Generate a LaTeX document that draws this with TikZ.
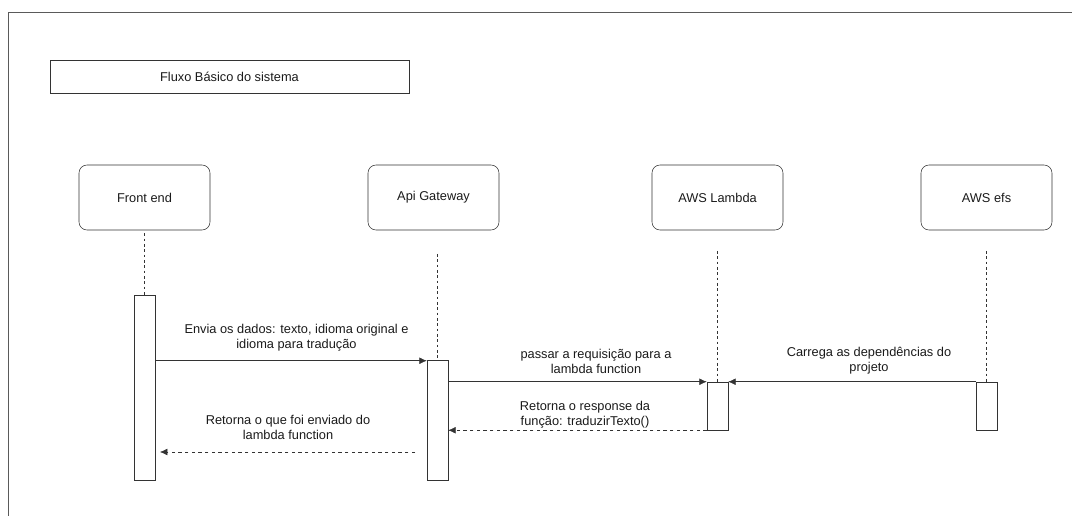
\documentclass[tikz,border=0pt]{standalone}
\usepackage{fontspec}
\setmainfont{Liberation Sans}
\usepackage{xcolor}
\usepackage{tikz}
\usetikzlibrary{arrows.meta,positioning,calc}

\definecolor{lineGray}{RGB}{51,51,51}
\definecolor{frameGray}{RGB}{90,90,90}
\definecolor{textDark}{RGB}{26,26,26}

\tikzset{
  actor/.style={draw=lineGray, rounded corners=6pt, minimum width=98.25pt, minimum height=48.75pt, font=\fontsize{9.6}{11.25}\selectfont, text=textDark},
  titlebox/.style={draw=lineGray, minimum width=269.25pt, minimum height=24.75pt, font=\fontsize{9.6}{11.25}\selectfont, text=textDark},
  activation/.style={draw=lineGray, fill=white, minimum width=15.75pt, inner sep=0pt},
  lifeline/.style={draw=lineGray, dash pattern=on 2pt off 2pt},
  msg/.style={draw=lineGray, -{Latex[length=5.5pt,width=5pt]}},
  reply/.style={msg, dash pattern=on 2.5pt off 2.5pt},
  msglabel/.style={align=center, font=\fontsize{9.6}{11.25}\selectfont, text=textDark}
}

\begin{document}
\begin{tikzpicture}[x=0.75pt, y=-0.75pt]
\useasboundingbox (0,0) rectangle (1072,516);

% Page frame
\draw[frameGray, line width=1pt] (8.5,516) -- (8.5,12.5) -- (1072,12.5);

% Title
\node[titlebox] (title) at (229.5,76.5) {Fluxo Básico do sistema};

% Participants
\node[actor] (front) at (144.5,197.5) {Front end};
\node[actor] (api) at (433.5,197.5) {Api Gateway};
\node[actor] (lambda) at (717.5,197.5) {AWS Lambda};
\node[actor] (efs) at (986.5,197.5) {AWS efs};

% Activations
\node[activation, minimum height=138.75pt] (frontAct) at (144.5,387.5) {};
\node[activation, minimum height=90pt] (apiAct) at (437.5,420) {};
\node[activation, minimum height=36pt] (lambdaAct) at (717.5,406) {};
\node[activation, minimum height=36pt] (efsAct) at (986.5,406) {};

% Lifelines
\coordinate (apiTop) at (437.5,254);
\coordinate (lambdaTop) at (717.5,251);
\coordinate (efsTop) at (986.5,251);
\draw[lifeline] (front.south) ++(0,3) -- (frontAct.north);
\draw[lifeline] (apiTop) -- (apiAct.north);
\draw[lifeline] (lambdaTop) -- (lambdaAct.north);
\draw[lifeline] (efsTop) -- (efsAct.north);

% Messages
\draw[msg] (frontAct.east |- apiAct.north) ++(0,1) -- ($(apiAct.north west)+(0,1)$);
\node[msglabel] (m1) at (296.5,338) {Envia os dados: texto, idioma original e\\idioma para tradução};

\draw[msg] (apiAct.east |- lambdaAct.north) -- (lambdaAct.north west);
\node[msglabel] (m2) at (596,361) {passar a requisição para a\\lambda function};

\draw[msg] (efsAct.north west) -- (lambdaAct.north east);
\node[msglabel] (m3) at (869,361) {Carrega as dependências do\\projeto};

\draw[reply] (lambdaAct.south west) -- (apiAct.east |- lambdaAct.south west);
\node[msglabel] (m4) at (585,415) {Retorna o response da\\função: traduzirTexto()};

\coordinate (replyStart) at (415,452);
\coordinate (replyEnd) at (160,452);
\draw[reply] (replyStart) -- (replyEnd);
\node[msglabel] (m5) at (288,427) {Retorna o que foi enviado do\\lambda function};

\end{tikzpicture}
\end{document}
